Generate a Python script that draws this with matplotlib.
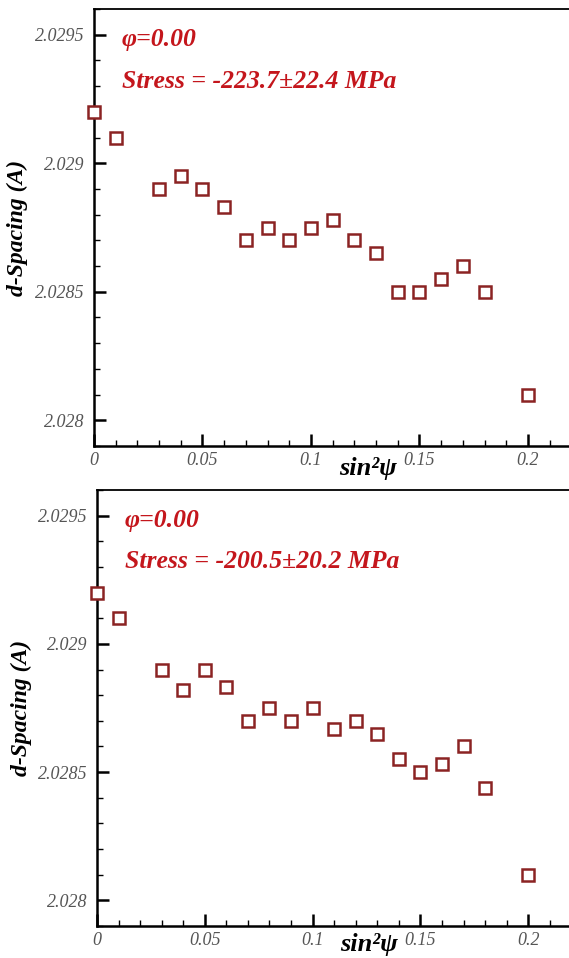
import matplotlib
matplotlib.use("Agg")
import matplotlib.pyplot as plt
from matplotlib.ticker import MultipleLocator, FixedLocator

sin2psi = [0.0, 0.01, 0.03, 0.04, 0.05, 0.06, 0.07, 0.08, 0.09, 0.10,
           0.11, 0.12, 0.13, 0.14, 0.15, 0.16, 0.17, 0.18, 0.20]
d_top = [2.02920, 2.02910, 2.02890, 2.02895, 2.02890, 2.02883, 2.02870, 2.02875,
         2.02870, 2.02875, 2.02878, 2.02870, 2.02865, 2.02850, 2.02850, 2.02855,
         2.02860, 2.02850, 2.02810]
d_bot = [2.02920, 2.02910, 2.02890, 2.02882, 2.02890, 2.02883, 2.02870, 2.02875,
         2.02870, 2.02875, 2.02867, 2.02870, 2.02865, 2.02855, 2.02850, 2.02853,
         2.02860, 2.02844, 2.02810]
phi_label = "φ=0.00"
stress_top = "Stress = -223.7±22.4 MPa"
stress_bot = "Stress = -200.5±20.2 MPa"
x_ticks = [0, 0.05, 0.1, 0.15, 0.2]
x_ticklabels = ["0", "0.05", "0.1", "0.15", "0.2"]
y_ticks = [2.028, 2.0285, 2.029, 2.0295]
y_ticklabels = ["2.028", "2.0285", "2.029", "2.0295"]

W, H = 569, 958
fig = plt.figure(figsize=(W / 100, H / 100), dpi=100)

serif = "Liberation Serif"
red = "#c4161c"
mk = "#8b2323"

def panel(rect, yvals, stress, xlab_y):
    ax = fig.add_axes(rect)
    ax.plot(sin2psi, yvals, linestyle="none", marker="s", markersize=9,
            markerfacecolor="white", markeredgecolor=mk, markeredgewidth=1.8,
            clip_on=False, zorder=5)
    ax.set_xlim(0, 0.2189)
    ax.set_ylim(2.0279, 2.02960)
    ax.spines["right"].set_visible(False)
    for s in ["left", "bottom"]:
        ax.spines[s].set_linewidth(1.8)
    ax.spines["top"].set_linewidth(1.3)
    ax.xaxis.set_major_locator(FixedLocator(x_ticks))
    ax.set_xticklabels(x_ticklabels)
    ax.xaxis.set_minor_locator(MultipleLocator(0.01))
    ax.yaxis.set_major_locator(FixedLocator(y_ticks))
    ax.set_yticklabels(y_ticklabels)
    ax.yaxis.set_minor_locator(MultipleLocator(0.0001))
    ax.tick_params(which="major", direction="in", length=8.5, width=1.8,
                   labelsize=13, labelcolor="#555555", top=False, right=False)
    ax.tick_params(which="minor", direction="in", length=4.5, width=1.0,
                   top=False, right=False)
    ax.tick_params(axis="y", which="major", pad=6.5)
    ax.tick_params(axis="x", which="major", pad=4)
    for lab in ax.get_xticklabels() + ax.get_yticklabels():
        lab.set_fontfamily(serif)
        lab.set_fontstyle("italic")
    ax.set_ylabel("d-Spacing (A)", fontfamily=serif, fontstyle="italic",
                  fontweight="bold", fontsize=17)
    ax.yaxis.set_label_coords(-0.138, 0.5)
    ax.set_xlabel("sin²ψ", fontfamily=serif, fontstyle="italic",
                  fontweight="bold", fontsize=19)
    ax.xaxis.set_label_coords(0.577, xlab_y)
    ax.text(0.059, 0.93, phi_label, transform=ax.transAxes, color=red,
            fontfamily=serif, fontstyle="italic", fontweight="bold",
            fontsize=18.5, va="center", ha="left")
    ax.text(0.059, 0.835, stress, transform=ax.transAxes, color=red,
            fontfamily=serif, fontstyle="italic", fontweight="bold",
            fontsize=18.5, va="center", ha="left")
    return ax

panel([94 / W, (H - 446) / H, (W - 94) / W, 437 / H], d_top, stress_top, -0.026)
panel([97 / W, (H - 926) / H, (W - 97) / W, 436 / H], d_bot, stress_bot, -0.016)

fig.savefig("out.png", dpi=100)
